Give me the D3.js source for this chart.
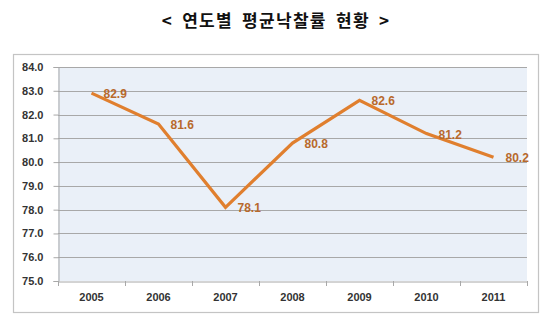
<!DOCTYPE html>
<html><head><meta charset="utf-8">
<script src="https://cdn.jsdelivr.net/npm/d3@7"></script>
<style>body{margin:0;background:#fff;}svg{display:block;}</style>
</head><body>
<svg id="c" width="550" height="330"></svg>
<script>
const title = "< 연도별 평균낙찰률 현황 >";
const years = ["2005","2006","2007","2008","2009","2010","2011"];
const rates = [82.9, 81.6, 78.1, 80.8, 82.6, 81.2, 80.2];
const yTicks = [75,76,77,78,79,80,81,82,83,84];

const svg = d3.select("#c");
const m = {left:58, right:527, top:67, bottom:281};

svg.append("text").attr("x",276).attr("y",27).attr("text-anchor","middle")
  .attr("font-family","'Noto Sans CJK KR'").attr("font-weight","bold").attr("font-size",17)
  .attr("letter-spacing",1.3).attr("word-spacing",4)
  .attr("fill","#111").text(title);

svg.append("rect").attr("x",13.5).attr("y",54.5).attr("width",525).attr("height",258)
  .attr("fill","#fff").attr("stroke","#c4c4c4").attr("stroke-width",1.2);

const x = d3.scaleBand().domain(years).range([m.left,m.right]);
const y = d3.scaleLinear().domain([75,84]).range([m.bottom,m.top]);

svg.append("rect").attr("x",m.left).attr("y",m.top).attr("width",m.right-m.left).attr("height",m.bottom-m.top)
  .attr("fill","#eaf0f8");

svg.append("g").selectAll("line").data(yTicks.slice(1)).join("line")
  .attr("x1",m.left).attr("x2",m.right)
  .attr("y1",d=>Math.round(y(d))+0.5).attr("y2",d=>Math.round(y(d))+0.5)
  .attr("stroke","#a8a8a8").attr("stroke-width",1.2);

const ya = svg.append("g").attr("transform",`translate(${m.left+0.5},0)`)
  .call(d3.axisLeft(y).tickValues(yTicks).tickFormat(d3.format(".1f")).tickSize(5).tickPadding(10));
ya.select(".domain").attr("stroke","#a8a8a8");
ya.selectAll(".tick line").attr("stroke","#a8a8a8");
ya.selectAll("text").attr("font-family","'Liberation Sans', Arial").attr("font-weight","bold")
  .attr("font-size",11).attr("fill","#333");

const xa = svg.append("g").attr("transform",`translate(0,${m.bottom+0.5})`)
  .call(d3.axisBottom(x).tickSize(0).tickPadding(12));
xa.select(".domain").attr("stroke","#a8a8a8");
xa.selectAll("text").attr("font-family","'Liberation Sans', Arial").attr("font-weight","bold")
  .attr("font-size",11).attr("fill","#333");
svg.append("g").selectAll("line").data(years.concat(["end"])).join("line")
  .attr("x1",(d,i)=>m.left+i*x.bandwidth()+0.5).attr("x2",(d,i)=>m.left+i*x.bandwidth()+0.5)
  .attr("y1",m.bottom).attr("y2",m.bottom+5).attr("stroke","#a8a8a8");

const line = d3.line().x((d,i)=>x(years[i])+x.bandwidth()/2).y(d=>y(d));
svg.append("path").datum(rates).attr("d",line).attr("fill","none")
  .attr("stroke","#e07f2e").attr("stroke-width",3.2).attr("stroke-linejoin","miter");

svg.append("g").selectAll("text").data(rates).join("text")
  .attr("x",(d,i)=>x(years[i])+x.bandwidth()/2+12).attr("y",d=>y(d)+5)
  .attr("font-family","'Liberation Sans', Arial").attr("font-weight","bold").attr("font-size",12)
  .attr("fill","#b8692c").text(d=>d.toFixed(1));
</script>
</body></html>
